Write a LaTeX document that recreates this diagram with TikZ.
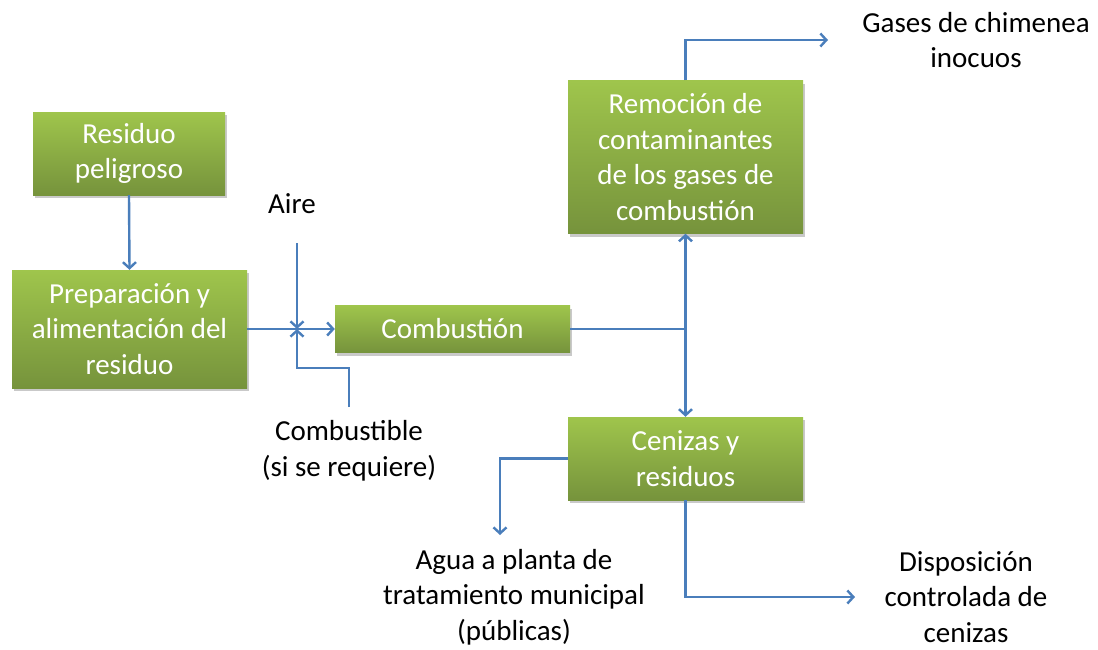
\documentclass[tikz,border=0pt]{standalone}
\usepackage{fontspec}
\setmainfont{Carlito}
\usetikzlibrary{arrows.meta,shadows}
\definecolor{flowblue}{HTML}{4A7EBB}
\definecolor{greentop}{HTML}{9FC54C}
\definecolor{greenbot}{HTML}{76933C}
\tikzset{
  procbox/.style={rectangle, draw=none, top color=greentop, bottom color=greenbot,
    text=white, align=center, inner sep=2pt,
    font=\fontsize{29}{35.5}\selectfont,
    drop shadow={shadow xshift=2pt, shadow yshift=-3pt, opacity=0.35, fill=black!60}},
  lbl/.style={align=center, text=black, inner sep=1pt,
    font=\fontsize{29}{35.5}\selectfont},
  flow/.style={draw=flowblue, line width=2.4pt},
  arr/.style={flow, -{Straight Barb[length=6pt,width=13pt]}}
}
\begin{document}
\begin{tikzpicture}[x=1pt,y=-1pt]
  \useasboundingbox[fill=white] (0,0) rectangle (1098,649);

  % process boxes
  \node[procbox, minimum width=192pt, minimum height=83pt] (res) at (129,153.5) {Residuo\\peligroso};
  \node[procbox, minimum width=235pt, minimum height=118pt] (prep) at (129.5,329) {Preparación y\\alimentación del\\residuo};
  \node[procbox, minimum width=235pt, minimum height=47pt] (comb) at (452.5,329) {Combustión};
  \node[procbox, minimum width=235pt, minimum height=153pt] (rem) at (685.5,157) {Remoción de\\contaminantes\\de los gases de\\combustión};
  \node[procbox, minimum width=235pt, minimum height=83pt] (cen) at (685.5,458.5) {Cenizas y\\residuos};

  % free labels
  \node[lbl] (aire) at (292,204) {Aire};
  \node[lbl] (fuellbl) at (349,451) {Combustible\\(si se requiere)};
  \node[lbl] (gases) at (976,40) {Gases de chimenea\\inocuos};
  \node[lbl] (agua) at (514,597) {Agua a planta de\\tratamiento municipal\\(públicas)};
  \node[lbl] (disp) at (966,597) {Disposición\\controlada de\\cenizas};

  % connector end points
  \coordinate (aireTop) at (297,243);
  \coordinate (mix) at (297,329);
  \coordinate (fuelEnd) at (349,407);
  \coordinate (fuelBend) at (297,368);
  \coordinate (split) at (685.5,329);
  \coordinate (gasEnd) at (828,40);
  \coordinate (aguaEnd) at (500,535);
  \coordinate (dispEnd) at (855,597);

  % connectors
  \draw[arr] (res.south) -- (prep.north);
  \draw[arr] (prep.east) -- (comb.west);
  \draw[arr] (aireTop) -- (mix);
  \draw[arr] (fuelEnd) |- (fuelBend) -- (mix);
  \draw[flow] (comb.east) -- (split);
  \draw[arr] (split) -- (rem.south);
  \draw[arr] (split) -- (cen.north);
  \draw[arr] (rem.north) |- (gasEnd);
  \draw[arr] (cen.west) -| (aguaEnd);
  \draw[arr] (cen.south) |- (dispEnd);
\end{tikzpicture}
\end{document}
